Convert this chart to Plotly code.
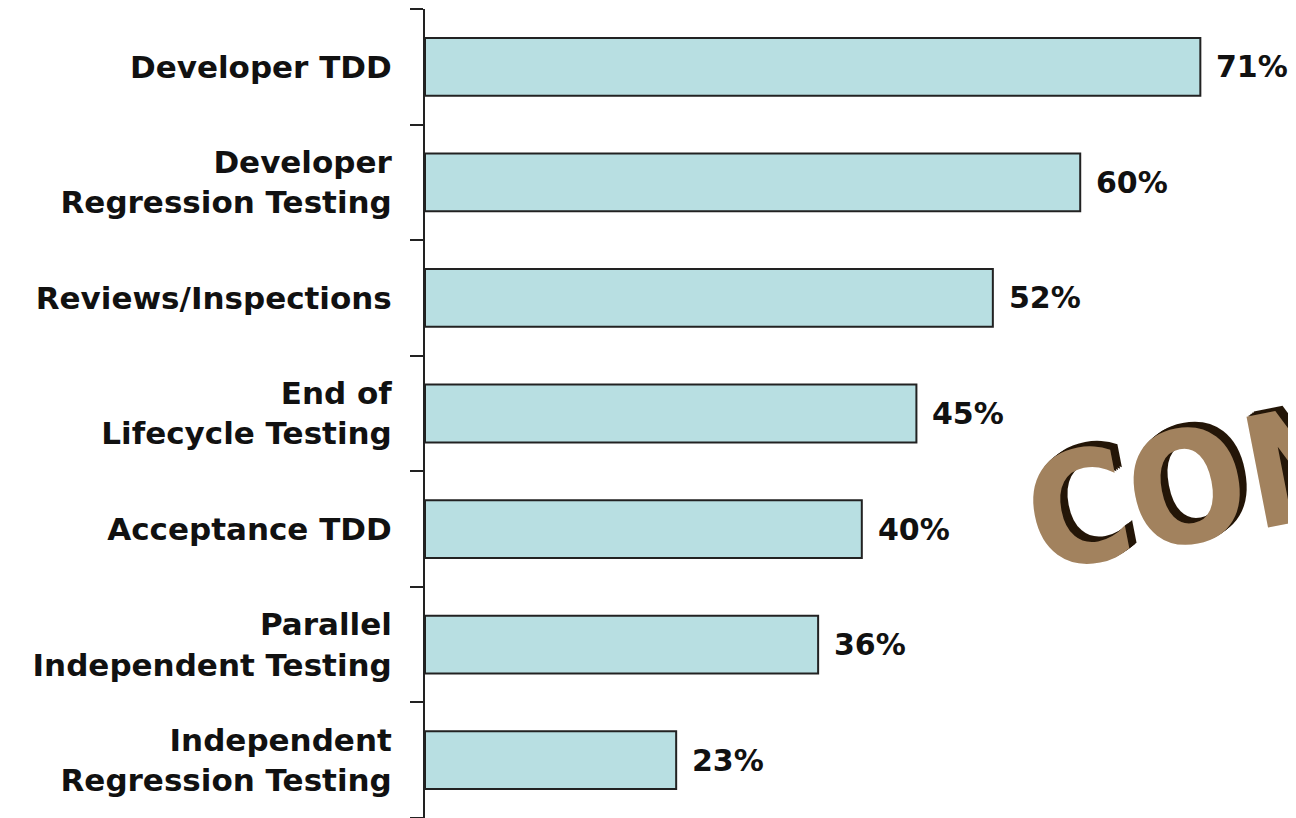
import plotly.graph_objects as go

# Data (top-to-bottom as shown in the chart)
categories = [
    "Developer TDD",
    "Developer<br>Regression Testing",
    "Reviews/Inspections",
    "End of<br>Lifecycle Testing",
    "Acceptance TDD",
    "Parallel<br>Independent Testing",
    "Independent<br>Regression Testing",
]
values = [71, 60, 52, 45, 40, 36, 23]
value_labels = ["71%", "60%", "52%", "45%", "40%", "36%", "23%"]
watermark = "CONFIDENTIAL"

# plot bottom-first so the first category sits at the top
cats_plot = categories[::-1]
vals_plot = values[::-1]
labels_plot = value_labels[::-1]

FONT = "DejaVu Sans, Liberation Sans, Arial, sans-serif"

fig = go.Figure()
fig.add_trace(go.Bar(
    x=vals_plot,
    y=cats_plot,
    orientation="h",
    width=0.5,
    marker=dict(color="#B8DFE2", line=dict(color="#222222", width=2)),
    hoverinfo="skip",
))

annotations = []
for c, v, t in zip(cats_plot, vals_plot, labels_plot):
    annotations.append(dict(
        x=v, y=c, xref="x", yref="y", text=f"<b>{t}</b>", showarrow=False,
        xanchor="left", yanchor="middle", xshift=14,
        font=dict(family=FONT, size=30, color="#111111"),
    ))

# decorative watermark text
annotations.append(dict(
    x=0.67, y=0.505, xref="paper", yref="paper",
    text=f"<b>{watermark}</b>", showarrow=False,
    xanchor="left", yanchor="middle", textangle=-11,
    font=dict(family="Liberation Sans Narrow, DejaVu Sans Condensed, Liberation Sans, sans-serif",
              size=155, color="#A2825E",
              shadow="2px -1px 0 #241608, 4px -2px 0 #241608, 6px -3px 0 #241608, 8px -4px 0 #241608"),
))

fig.update_layout(
    width=1296, height=818,
    margin=dict(l=417, r=8, t=1, b=8),
    paper_bgcolor="white", plot_bgcolor="white",
    showlegend=False,
    annotations=annotations,
    bargap=0.5,
)
fig.update_xaxes(
    range=[0, 79.76], visible=False, showgrid=False, zeroline=False,
)
fig.update_yaxes(
    type="category",
    categoryorder="array", categoryarray=cats_plot,
    range=[-0.5, 6.5],
    showline=True, linecolor="#222222", linewidth=2,
    ticks="outside", tickson="boundaries", ticklen=13, tickwidth=2, tickcolor="#222222",
    showgrid=False, zeroline=False,
    tickfont=dict(family=FONT, size=31, color="#111111", weight="bold"),
    ticklabelstandoff=25,
)

fig.write_html("out.html")
